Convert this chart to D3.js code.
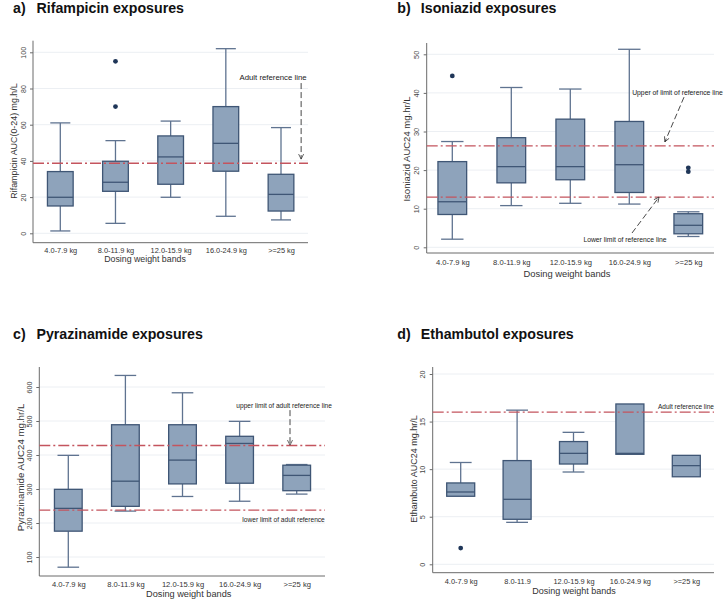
<!DOCTYPE html>
<html>
<head>
<meta charset="utf-8">
<script src="https://cdn.jsdelivr.net/npm/d3@7"></script>
<style>
  html, body { margin: 0; padding: 0; background: #fff; }
  svg { display: block; font-family: "Liberation Sans", Arial, sans-serif; }
</style>
</head>
<body>
<svg id="chart" width="728" height="599"></svg>
<script>
// ---------------- DATA ----------------
const weightBands = ["4.0-7.9 kg", "8.0-11.9 kg", "12.0-15.9 kg", "16.0-24.9 kg", ">=25 kg"];
const weightBandsD = ["4.0-7.9 kg", "8.0-11.9", "12.0-15.9 kg", "16.0-24.9 kg", ">=25 kg"];

// each box: [lower whisker, Q1, median, Q3, upper whisker]
const rifampicinBoxes = [
  [1.3, 15.1, 19.9, 34.1, 61.0],
  [5.5, 23.2, 28.2, 39.8, 51.2],
  [19.9, 27.1, 42.2, 53.8, 62.0],
  [9.4, 34.3, 49.7, 70.0, 102.0],
  [7.4, 12.3, 21.5, 32.6, 58.4]
];
const rifampicinOutliers = [[], [95, 70], [], [], []];
const rifampicinRefs = [38.7];
const rifampicinTicks = [0, 20, 40, 60, 80, 100];

const isoniazidBoxes = [
  [2.1, 8.5, 11.8, 22.2, 27.4],
  [10.8, 16.7, 20.9, 28.4, 41.4],
  [11.4, 17.5, 20.9, 33.2, 41.0],
  [11.2, 14.2, 21.4, 32.6, 51.3],
  [2.8, 3.5, 5.7, 8.7, 9.2]
];
const isoniazidOutliers = [[44.4], [], [], [], [20.6, 19.6]];
const isoniazidRefs = [26.3, 13.0];
const isoniazidTicks = [0, 10, 20, 30, 40, 50];

const pyrazinamideBoxes = [
  [70, 176, 243, 299, 399],
  [235, 249, 323, 489, 634],
  [278, 315, 385, 489, 583],
  [264, 317, 434, 455, 499],
  [285, 295, 340, 370, 372]
];
const pyrazinamideOutliers = [[], [], [], [], []];
const pyrazinamideRefs = [428, 238];
const pyrazinamideTicks = [100, 200, 300, 400, 500, 600];

const ethambutolBoxes = [
  [7.15, 7.15, 7.6, 8.55, 10.7],
  [4.41, 4.73, 6.83, 10.9, 16.2],
  [9.7, 10.54, 11.66, 12.9, 13.87],
  [11.56, 11.56, 11.66, 16.85, 16.85],
  [9.2, 9.2, 10.37, 11.45, 11.45]
];
const ethambutolOutliers = [[1.7], [], [], [], []];
const ethambutolRefs = [16];
const ethambutolTicks = [0, 5, 10, 15, 20];

// ---------------- STYLE ----------------
const BOX_FILL = "#8ea3bb";
const BOX_STROKE = "#3f5675";
const WHISKER = "#5f7390";
const OUTLIER = "#1f3658";
const REF = "#c4545e";
const AXIS = "#6b6b6b";
const GRID = "#eceff3";
const TEXT = "#333333";

const svg = d3.select("#chart");

// arrowhead marker
svg.append("defs").append("marker")
  .attr("id", "arrow").attr("viewBox", "0 0 10 10")
  .attr("refX", 9).attr("refY", 5)
  .attr("markerWidth", 7).attr("markerHeight", 7)
  .attr("orient", "auto-start-reverse")
  .append("path").attr("d", "M1,1 L9,5 L1,9")
  .attr("fill", "none").attr("stroke", "#333").attr("stroke-width", 1.2);

function drawPanel(cfg) {
  const g = svg.append("g");
  const y = d3.scaleLinear().domain(cfg.yDomain).range(cfg.yRange);
  const x = d3.scalePoint().domain(cfg.categories).range(cfg.xRange);
  const px = f => cfg.left + f * (cfg.right - cfg.left);

  // title
  const t = g.append("text").attr("x", cfg.titleX).attr("y", cfg.titleY)
    .attr("font-size", 14.2).attr("font-weight", "bold").attr("fill", "#111");
  t.append("tspan").text(cfg.label);
  g.append("text").attr("x", cfg.titleX + 23.5).attr("y", cfg.titleY)
    .attr("font-size", 14.2).attr("font-weight", "bold").attr("fill", "#111")
    .text(cfg.title);

  // grid
  g.selectAll(".grid").data(cfg.ticks).join("line")
    .attr("x1", cfg.left).attr("x2", cfg.right)
    .attr("y1", d => y(d)).attr("y2", d => y(d))
    .attr("stroke", GRID).attr("stroke-width", 1);

  // y axis
  const yAxis = d3.axisLeft(y).tickValues(cfg.ticks).tickSize(3).tickPadding(5);
  const ya = g.append("g").attr("transform", `translate(${cfg.left},0)`).call(yAxis);
  ya.select(".domain").remove();
  ya.selectAll(".tick line").attr("stroke", AXIS);
  ya.selectAll(".tick text")
    .attr("fill", "#444").attr("font-size", cfg.yTickFont)
    .attr("font-family", "Liberation Sans, Arial, sans-serif")
    .attr("text-anchor", "middle").attr("dy", null)
    .attr("dominant-baseline", "central")
    .attr("transform", function () {
      return `translate(-10,0) rotate(-90)`;
    })
    .attr("x", 0).attr("y", 0);
  g.append("line").attr("x1", cfg.left).attr("x2", cfg.left)
    .attr("y1", cfg.top).attr("y2", cfg.bottom).attr("stroke", AXIS).attr("stroke-width", 1);
  g.append("line").attr("x1", cfg.left).attr("x2", cfg.right)
    .attr("y1", cfg.bottom).attr("y2", cfg.bottom).attr("stroke", AXIS).attr("stroke-width", 1);

  // x tick labels
  const xAxis = d3.axisBottom(x).tickSize(0).tickPadding(0);
  const xa = g.append("g").attr("transform", `translate(0,${cfg.xTickY})`).call(xAxis);
  xa.select(".domain").remove();
  xa.selectAll(".tick text").attr("fill", "#333").attr("font-size", cfg.xTickFont)
    .attr("font-family", "Liberation Sans, Arial, sans-serif").attr("dy", 0).attr("y", 0);

  // axis titles
  g.append("text").attr("x", cfg.xLabelX).attr("y", cfg.xLabelY)
    .attr("text-anchor", "middle").attr("font-size", cfg.xLabelFont).attr("fill", TEXT)
    .text("Dosing weight bands");
  g.append("text")
    .attr("transform", `translate(${cfg.yLabelX},${cfg.yLabelY}) rotate(-90)`)
    .attr("text-anchor", "middle").attr("dominant-baseline", "central")
    .attr("font-size", cfg.yLabelFont).attr("fill", TEXT)
    .text(cfg.yLabel);

  // boxes
  const bw = cfg.boxWidth, cw = bw * 0.78;
  const boxes = g.selectAll(".box").data(cfg.boxes).join("g")
    .attr("transform", (d, i) => `translate(${x(cfg.categories[i])},0)`);
  boxes.append("line").attr("x1", 0).attr("x2", 0)
    .attr("y1", d => y(d[3])).attr("y2", d => y(d[4]))
    .attr("stroke", WHISKER).attr("stroke-width", 1.3)
    .attr("display", d => d[4] > d[3] ? null : "none");
  boxes.append("line").attr("x1", 0).attr("x2", 0)
    .attr("y1", d => y(d[1])).attr("y2", d => y(d[0]))
    .attr("stroke", WHISKER).attr("stroke-width", 1.3)
    .attr("display", d => d[0] < d[1] ? null : "none");
  boxes.append("line").attr("x1", -cw / 2).attr("x2", cw / 2)
    .attr("y1", d => y(d[4])).attr("y2", d => y(d[4]))
    .attr("stroke", WHISKER).attr("stroke-width", 1.3)
    .attr("display", d => d[4] > d[3] ? null : "none");
  boxes.append("line").attr("x1", -cw / 2).attr("x2", cw / 2)
    .attr("y1", d => y(d[0])).attr("y2", d => y(d[0]))
    .attr("stroke", WHISKER).attr("stroke-width", 1.3)
    .attr("display", d => d[0] < d[1] ? null : "none");
  boxes.append("rect").attr("x", -bw / 2).attr("width", bw)
    .attr("y", d => y(d[3])).attr("height", d => y(d[1]) - y(d[3]))
    .attr("fill", BOX_FILL).attr("stroke", BOX_STROKE).attr("stroke-width", 1.3);
  boxes.append("line").attr("x1", -bw / 2).attr("x2", bw / 2)
    .attr("y1", d => y(d[2])).attr("y2", d => y(d[2]))
    .attr("stroke", BOX_STROKE).attr("stroke-width", 1.3);

  // outliers
  cfg.outliers.forEach((arr, i) => {
    g.selectAll(null).data(arr).join("circle")
      .attr("cx", x(cfg.categories[i])).attr("cy", d => y(d)).attr("r", 2.4)
      .attr("fill", OUTLIER);
  });

  // reference lines
  g.selectAll(".ref").data(cfg.refs).join("line")
    .attr("x1", cfg.left).attr("x2", cfg.right)
    .attr("y1", d => y(d)).attr("y2", d => y(d))
    .attr("stroke", REF).attr("stroke-width", 1.3)
    .attr("stroke-dasharray", "11,3,2,3");

  // annotations
  (cfg.notes || []).forEach(n => {
    g.append("text").attr("x", px(n.fx)).attr("y", y(n.v))
      .attr("text-anchor", n.anchor || "middle").attr("dominant-baseline", "central")
      .attr("font-size", n.size).attr("fill", "#222").text(n.text);
  });
  (cfg.arrows || []).forEach(a => {
    g.append("line").attr("x1", px(a.f1)).attr("y1", y(a.v1))
      .attr("x2", px(a.f2)).attr("y2", y(a.v2))
      .attr("stroke", "#333").attr("stroke-width", 0.9)
      .attr("stroke-dasharray", "6,3")
      .attr("marker-end", "url(#arrow)");
  });
}

drawPanel({
  label: "a)", title: "Rifampicin exposures", titleX: 13, titleY: 12.5,
  categories: weightBands, boxes: rifampicinBoxes, outliers: rifampicinOutliers,
  refs: rifampicinRefs, ticks: rifampicinTicks,
  yDomain: [0, 100], yRange: [233.3, 52.3], xRange: [60.3, 281],
  left: 33, right: 308, top: 40.7, bottom: 242.7, boxWidth: 25.7,
  yTickFont: 7, xTickFont: 7.4, xTickY: 253, xLabelFont: 8.8, xLabelX: 145, xLabelY: 262,
  yLabel: "Rifampicin AUC(0-24) mg.h/L", yLabelX: 14.3, yLabelY: 141, yLabelFont: 8.9,
  notes: [{ text: "Adult reference line", fx: 0.873, v: 86, size: 7.8 }],
  arrows: [{ f1: 0.975, v1: 83, f2: 0.975, v2: 41 }]
});

drawPanel({
  label: "b)", title: "Isoniazid exposures", titleX: 397.3, titleY: 12.5,
  categories: weightBands, boxes: isoniazidBoxes, outliers: isoniazidOutliers,
  refs: isoniazidRefs, ticks: isoniazidTicks,
  yDomain: [0, 50], yRange: [247.3, 54.3], xRange: [452.3, 688.3],
  left: 426.7, right: 714, top: 43, bottom: 253, boxWidth: 28.7,
  yTickFont: 7.4, xTickFont: 7.6, xTickY: 265, xLabelFont: 9.4, xLabelX: 567, xLabelY: 277,
  yLabel: "Isoniazid AUC24 mg.hr/L", yLabelX: 406.7, yLabelY: 149, yLabelFont: 9.5,
  notes: [
    { text: "Upper of limit of reference line", fx: 0.873, v: 40.2, size: 6.8 },
    { text: "Lower limit of reference line", fx: 0.690, v: 1.9, size: 6.8 }
  ],
  arrows: [
    { f1: 0.8956, v1: 38.9, f2: 0.829, v2: 27.3 },
    { f1: 0.7146, v1: 3.7, f2: 0.8085, v2: 13.0 }
  ]
});

drawPanel({
  label: "c)", title: "Pyrazinamide exposures", titleX: 13, titleY: 338.5,
  categories: weightBands, boxes: pyrazinamideBoxes, outliers: pyrazinamideOutliers,
  refs: pyrazinamideRefs, ticks: pyrazinamideTicks,
  yDomain: [100, 600], yRange: [557, 387], xRange: [68.3, 296.7],
  left: 39.3, right: 325, top: 367, bottom: 576, boxWidth: 27.7,
  yTickFont: 7.2, xTickFont: 7.6, xTickY: 587, xLabelFont: 9.2, xLabelX: 188.7, xLabelY: 597,
  yLabel: "Pyrazinamide AUC24 mg.hr/L", yLabelX: 20.7, yLabelY: 467.5, yLabelFont: 9.7,
  notes: [
    { text: "upper limit of adult reference line", fx: 0.857, v: 547, size: 6.6 },
    { text: "lower limit of adult reference", fx: 0.855, v: 209, size: 6.6 }
  ],
  arrows: [{ f1: 0.8775, v1: 532, f2: 0.8775, v2: 429 }]
});

drawPanel({
  label: "d)", title: "Ethambutol exposures", titleX: 397.3, titleY: 338.5,
  categories: weightBandsD, boxes: ethambutolBoxes, outliers: ethambutolOutliers,
  refs: ethambutolRefs, ticks: ethambutolTicks,
  yDomain: [0, 20], yRange: [564.3, 374], xRange: [460.7, 686.3],
  left: 432.7, right: 714, top: 367, bottom: 572.7, boxWidth: 28,
  yTickFont: 7.2, xTickFont: 7.4, xTickY: 583.5, xLabelFont: 9, xLabelX: 574, xLabelY: 593.7,
  yLabel: "Ethambuto AUC24 mg.hr/L", yLabelX: 414, yLabelY: 469, yLabelFont: 9,
  notes: [{ text: "Adult reference line", fx: 1.0, v: 16.56, size: 6.5, anchor: "end" }],
  arrows: []
});
</script>
</body>
</html>
